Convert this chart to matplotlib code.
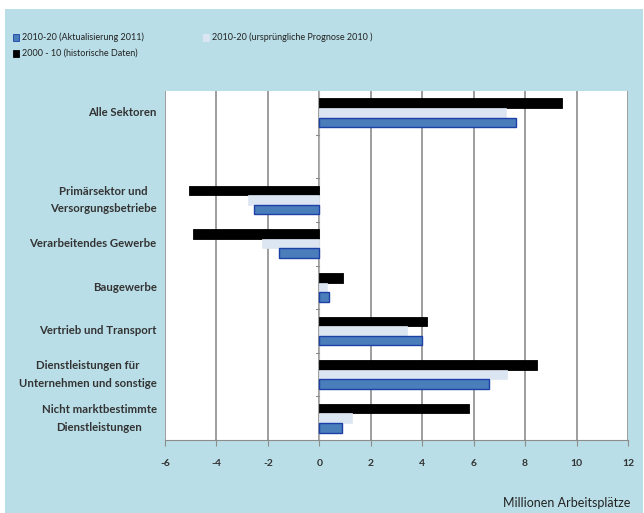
import numpy as np
import matplotlib.pyplot as plt
from matplotlib.patches import Rectangle

plt.rcParams['font.family'] = ['Lato', 'DejaVu Sans']

# Kategorien (leerer Platz nach "Alle Sektoren")
kategorien = ['Alle Sektoren', '',
              'Primärsektor und\nVersorgungsbetriebe',
              'Verarbeitendes Gewerbe',
              'Baugewerbe',
              'Vertrieb und Transport',
              'Dienstleistungen für\nUnternehmen und sonstige',
              'Nicht marktbestimmte\nDienstleistungen']

historisch = [9.42, np.nan, -5.07, -4.91, 0.92, 4.2, 8.47, 5.81]      # 2000 - 10
prognose_2010 = [7.24, np.nan, -2.77, -2.21, 0.3, 3.41, 7.29, 1.27]   # ursprüngliche Prognose
aktual_2011 = [7.64, np.nan, -2.55, -1.58, 0.37, 4.0, 6.6, 0.88]      # Aktualisierung 2011

xticks = [-6, -4, -2, 0, 2, 4, 6, 8, 10, 12]

bg = '#b9dee7'
fig = plt.figure(figsize=(6.44, 5.13), dpi=100, facecolor='white')
fig.patches.append(Rectangle((5 / 644, 0), 638 / 644, 504 / 513,
                             transform=fig.transFigure, facecolor=bg,
                             edgecolor='none', zorder=-10))

ax = fig.add_axes([165 / 644, 1 - 440 / 513, 463 / 644, 349 / 513])
ax.set_facecolor('white')

y = np.arange(len(kategorien))
h = 0.22
ax.barh(y - h, historisch, height=h, color='black', edgecolor='black',
        linewidth=0.6, zorder=3, label='2000 - 10 (historische Daten)')
ax.barh(y, prognose_2010, height=h, color='#dce6f2', edgecolor='#dce6f2',
        linewidth=0.5, zorder=3, label='2010-20 (ursprüngliche Prognose 2010 )')
ax.barh(y + h, aktual_2011, height=h, color='#4a7ebb', edgecolor='#1c3fa8',
        linewidth=1.0, zorder=3, label='2010-20 (Aktualisierung 2011)')

ax.set_xlim(-6, 12)
ax.set_ylim(len(kategorien) - 0.5, -0.5)
ax.set_xticks(xticks)
ax.set_xticklabels([str(t) for t in xticks], fontsize=7.5, fontweight='bold',
                   color='#333333')
ax.grid(axis='x', color='#8c8c8c', linewidth=1.2, zorder=1)
ax.set_axisbelow(True)

for s in ['top', 'right', 'left']:
    ax.spines[s].set_visible(False)
ax.spines['bottom'].set_color('#8c8c8c')
ax.tick_params(axis='x', length=4, color='#8c8c8c', pad=10)

# Kategorienachse liegt bei x = 0
ax.set_yticks([])
ax.axvline(0, color='#b0b0b0', linewidth=0.8, zorder=2)
for b in np.arange(0.5, len(kategorien) - 0.5, 1.0):
    ax.plot([-0.12, 0], [b, b], color='#8c8c8c', linewidth=0.8, zorder=2)

for yi, name in zip(y, kategorien):
    ax.text(-0.018, yi, name, transform=ax.get_yaxis_transform(),
            ha='right', va='center', multialignment='center',
            fontsize=8.2, fontweight='bold', color='#333333', linespacing=1.75)

fig.text(630 / 644, 1 - 503 / 513, 'Millionen Arbeitsplätze', ha='right',
         va='center', fontsize=9, color='#222222')

# Legende
leg = [(13, 37, '#4a7ebb', '#1c3fa8', '2010-20 (Aktualisierung 2011)'),
       (203, 37, '#dce6f2', '#dce6f2', '2010-20 (ursprüngliche Prognose 2010 )'),
       (13, 53, 'black', 'black', '2000 - 10 (historische Daten)')]
for lx, ly, fc, ec, txt in leg:
    fig.patches.append(Rectangle((lx / 644, 1 - (ly + 3.5) / 513), 6 / 644, 7 / 513,
                                 transform=fig.transFigure, facecolor=fc,
                                 edgecolor=ec, linewidth=0.6))
    fig.text((lx + 9) / 644, 1 - ly / 513, txt, ha='left', va='center',
             fontsize=6.5, color='#222222')

fig.savefig('out.png', dpi=100, facecolor='white')
